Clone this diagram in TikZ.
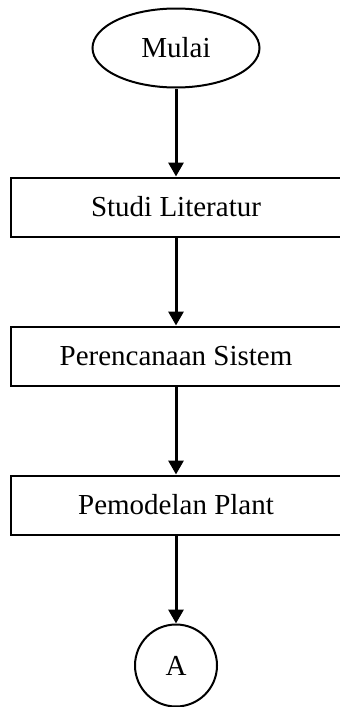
\documentclass[tikz,border=0pt]{standalone}
\usepackage{fontspec}
\setmainfont{Liberation Serif}
\usetikzlibrary{positioning,shapes.geometric,arrows.meta}
\begin{document}
\begin{tikzpicture}[x=1pt,y=1pt,
	terminal/.style={draw,ellipse,line width=2pt,minimum width=167pt,minimum height=79pt,inner sep=0pt},
	process/.style={draw,rectangle,line width=2pt,minimum width=330pt,minimum height=59pt,inner sep=0pt},
	connector/.style={draw,circle,line width=2pt,minimum size=82pt,inner sep=0pt},
	flow/.style={line width=3pt,-{Triangle[length=14pt,width=15pt]}},
	font=\fontsize{29}{34}\selectfont]
	\useasboundingbox (0,0) rectangle (340,-707);
	\clip (0,0) rectangle (340,-707);
	\node[terminal] (mulai) at (176,-48) {Mulai};
	\node[process,below=88pt of mulai] (studi) {Studi Literatur};
	\node[process,below=88pt of studi] (rencana) {Perencanaan Sistem};
	\node[process,below=88pt of rencana] (model) {Pemodelan Plant};
	\node[connector,below=88pt of model] (a) {A};
	
	\path[flow] (mulai) edge (studi)
	(studi) edge (rencana)
	(rencana) edge (model)
	(model) edge (a);
\end{tikzpicture}
\end{document}
